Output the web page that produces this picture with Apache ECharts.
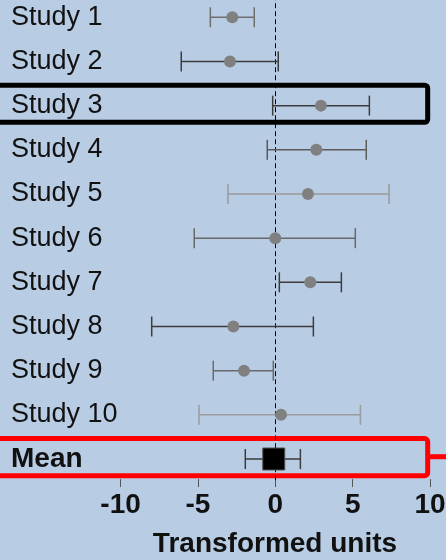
<!DOCTYPE html>
<html>
<head>
<meta charset="utf-8">
<style>
  html, body { margin: 0; padding: 0; background: #b8cce4; }
  #chart { width: 446px; height: 560px; }
</style>
<script src="https://cdn.jsdelivr.net/npm/echarts@6/dist/echarts.min.js"></script>
</head>
<body>
<div id="chart"></div>
<script>
// Forest plot: per-study estimates with confidence intervals and the pooled mean.
const studies = ['Study 1', 'Study 2', 'Study 3', 'Study 4', 'Study 5',
                 'Study 6', 'Study 7', 'Study 8', 'Study 9', 'Study 10', 'Mean'];
const estimates = [-2.78, -2.93, 2.95, 2.65, 2.11, 0.00, 2.26, -2.71, -2.02, 0.37, -0.10];
const lower     = [-4.20, -6.08, -0.17, -0.52, -3.06, -5.24, 0.26, -7.99, -4.01, -4.93, -1.94];
const upper     = [-1.36, 0.19, 6.08, 5.88, 7.35, 5.17, 4.27, 2.46, -0.13, 5.50, 1.62];
const xTicks    = [-10, -5, 0, 5, 10];
// Rows that get an outline, with their outline colour
const highlighted = ['Study 3', 'Mean'];
const highlightColors = ['#000000', '#ff0000'];
// Whisker colours per row
const whiskerColors = ['#6e6e6e', '#3c3c3c', '#3c3c3c', '#5a5a5a', '#9a9a9a', '#686868',
                       '#3c3c3c', '#3c3c3c', '#6a6a6a', '#9c9c9c', '#3c3c3c'];

const FONT = '"Liberation Sans", Arial, sans-serif';
const meanIdx = studies.indexOf('Mean');

const intervalData = studies.map((s, i) => [lower[i], upper[i], i]);
const studyPoints = studies.map((s, i) => [estimates[i], i]).filter((p, i) => i !== meanIdx);
const meanPoint = [[estimates[meanIdx], meanIdx]];
const boxData = highlighted.map(name => [studies.indexOf(name)]);

const chart = echarts.init(document.getElementById('chart'), null, { renderer: 'canvas' });

chart.setOption({
  backgroundColor: '#b8cce4',
  animation: false,
  grid: { left: 0, right: 0, top: -4.8, bottom: 78.9, containLabel: false, outerBoundsMode: 'none' },
  xAxis: {
    type: 'value',
    min: -17.796,
    max: 11.033,
    offset: -2,
    axisLine: { show: false },
    splitLine: { show: false },
    axisTick: {
      show: true, length: 8, customValues: xTicks,
      lineStyle: { color: '#555555', width: 1 }
    },
    axisLabel: {
      customValues: xTicks,
      margin: 12,
      fontFamily: FONT, fontSize: 28, fontWeight: 'bold', color: '#111111'
    },
    name: 'Transformed units',
    nameLocation: 'middle',
    nameGap: 51,
    nameTextStyle: {
      fontFamily: FONT, fontSize: 28, fontWeight: 'bold', color: '#111111',
      padding: [0, 0, 0, 104]
    }
  },
  yAxis: {
    type: 'category',
    data: studies,
    inverse: true,
    axisLine: { show: false },
    axisTick: { show: false },
    splitLine: { show: false },
    axisLabel: {
      inside: true,
      margin: 11,
      formatter: v => v === 'Mean' ? '{b|' + v + '}' : '{n|' + v + '}',
      rich: {
        n: { fontFamily: FONT, fontSize: 27, color: '#111111' },
        b: { fontFamily: FONT, fontSize: 28, fontWeight: 'bold', color: '#111111' }
      }
    }
  },
  series: [
    {
      // outlines around highlighted rows
      type: 'custom',
      clip: false,
      silent: true,
      z: 1,
      data: boxData,
      encode: { y: 0 },
      renderItem: (params, api) => {
        const idx = api.value(0);
        const band = api.size([0, 1])[1];
        const left = api.coord([-20, idx]);
        const right = api.coord([9.85, idx]);
        const color = highlightColors[params.dataIndex];
        const top = left[1] - 0.462 * band;
        const children = [{
          type: 'rect',
          shape: { x: left[0], y: top, width: right[0] - left[0], height: 0.84 * band, r: 3 },
          style: { fill: 'none', stroke: color, lineWidth: 5 }
        }];
        if (studies[idx] === 'Mean') {
          children.push({
            type: 'line',
            shape: { x1: right[0], y1: left[1] - 2.3, x2: api.getWidth() + 5, y2: left[1] - 2.3 },
            style: { stroke: color, lineWidth: 5 }
          });
        }
        return { type: 'group', children };
      }
    },
    {
      // confidence intervals with end caps
      type: 'custom',
      z: 3,
      data: intervalData,
      encode: { x: [0, 1], y: 2 },
      renderItem: (params, api) => {
        const lo = api.coord([api.value(0), api.value(2)]);
        const hi = api.coord([api.value(1), api.value(2)]);
        const half = 10;
        const stroke = whiskerColors[params.dataIndex];
        const style = { stroke, lineWidth: 1.5 };
        return {
          type: 'group',
          children: [
            { type: 'line', shape: { x1: lo[0], y1: lo[1], x2: hi[0], y2: hi[1] }, style },
            { type: 'line', shape: { x1: lo[0], y1: lo[1] - half, x2: lo[0], y2: lo[1] + half }, style },
            { type: 'line', shape: { x1: hi[0], y1: hi[1] - half, x2: hi[0], y2: hi[1] + half }, style }
          ]
        };
      }
    },
    {
      // study point estimates
      type: 'scatter',
      z: 4,
      data: studyPoints,
      symbol: 'circle',
      symbolSize: 12,
      itemStyle: { color: '#808080', opacity: 1 },
      markLine: {
        silent: true,
        symbol: 'none',
        label: { show: false },
        lineStyle: { color: '#000000', type: [5, 3], width: 1 },
        data: [{ xAxis: 0 }],
        z: 2
      }
    },
    {
      // pooled mean
      type: 'scatter',
      z: 5,
      data: meanPoint,
      symbol: 'rect',
      symbolSize: 22,
      itemStyle: { color: '#000000', borderColor: '#555555', borderWidth: 1, opacity: 1 }
    }
  ]
});
</script>
</body>
</html>
